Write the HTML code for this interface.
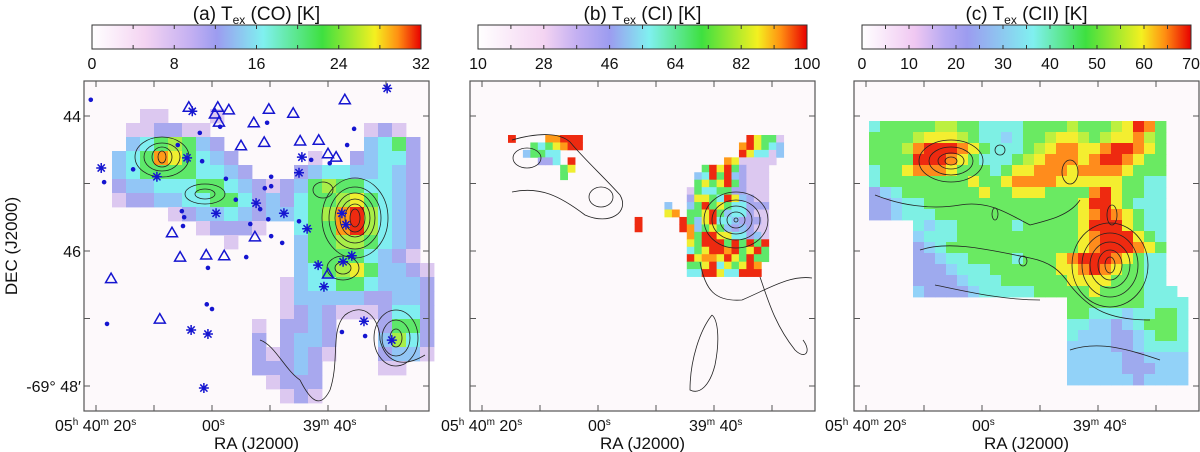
<!DOCTYPE html>
<html><head><meta charset="utf-8"><style>
html,body{margin:0;padding:0;background:#fff;}
svg{display:block;font-family:"Liberation Sans",sans-serif;}
</style></head><body>
<svg id="fig" width="1200" height="452" viewBox="0 0 1200 452">
<defs>
<linearGradient id="gCO" x1="0" x2="1" y1="0" y2="0">
<stop offset="0" stop-color="#ffffff"/><stop offset="0.16" stop-color="#f4d4f2"/><stop offset="0.3" stop-color="#c4b0f2"/><stop offset="0.38" stop-color="#9c9cf0"/><stop offset="0.52" stop-color="#80f0f0"/><stop offset="0.7" stop-color="#3ee040"/><stop offset="0.86" stop-color="#f4f020"/><stop offset="0.93" stop-color="#ff9012"/><stop offset="1" stop-color="#e80000"/>
</linearGradient>
<linearGradient id="gCI" x1="0" x2="1" y1="0" y2="0">
<stop offset="0" stop-color="#ffffff"/><stop offset="0.2" stop-color="#f4d4f2"/><stop offset="0.3" stop-color="#c4b0f2"/><stop offset="0.4" stop-color="#9c9cf0"/><stop offset="0.52" stop-color="#80f0f0"/><stop offset="0.68" stop-color="#3ee040"/><stop offset="0.85" stop-color="#f4f020"/><stop offset="0.92" stop-color="#ff9012"/><stop offset="1" stop-color="#e80000"/>
</linearGradient>
<linearGradient id="gCII" x1="0" x2="1" y1="0" y2="0">
<stop offset="0" stop-color="#ffffff"/><stop offset="0.16" stop-color="#f0c8f2"/><stop offset="0.25" stop-color="#b8aaf2"/><stop offset="0.32" stop-color="#9c9cf0"/><stop offset="0.52" stop-color="#80f0f0"/><stop offset="0.68" stop-color="#3ee040"/><stop offset="0.85" stop-color="#f4f020"/><stop offset="0.92" stop-color="#ff9012"/><stop offset="1" stop-color="#e80000"/>
</linearGradient>
</defs>
<g id="layer"></g>
</svg>
<script>
// ---- data ----
const coTicks=['0','8','16','24','32'];
const ciTicks=['10','28','46','64','82','100'];
const ciiTicks=['0','10','20','30','40','50','60','70'];
const raTickSec=[80,70,60,50,40,30];
const decTicks=[44,45,46,47,48];
const coGrid=[
".........................",
".........................",
"....11...1...............",
"...112211...........121..",
"...3456532..........3452.",
"..345875432.....1..23442.",
"..3455554432...234433432.",
"..2334445543212356554432.",
"..1223344554232455675432.",
"......123343233456896432.",
"........12221..455896432.",
"..........1....355665432.",
"...............355554321.",
"...............3456753321",
"..............13445543332",
"..............13333322332",
"..............12321112442",
"............1.2232...2552",
"............2.2332...3642",
"............212321...2331",
"............22232....11..",
".............1222........",
"..............121........",
"........................."];
const ciGrid=[
"9....88999......................97551",
"...5457899.....................897543",
"..35544........................974413",
"....224.9....................8711111.",
".......57.................597952111..",
".......5.................3495932111..",
".........................5757952111..",
"........................15445522111..",
"........................27754973211..",
".....................3..35957544222..",
".....................78.55795344211..",
".................9.....953794432221..",
".................9.....983575323211..",
"........................85997744231..",
"........................75999595959..",
"........................45799895795..",
"........................97887975955..",
"........................5579475798...",
"........................4499744999..."];
const ciiGrid=[
"455555665544445555655567985..",
"555567776544345567765677865..",
"555689998754445678877899875..",
"555599987544456788878998755..",
"455788875554577888788887555..",
"455555555755788887777775544..",
"234555555575577755558975544..",
"223445555555555555579975444..",
"223444555555555555578987544..",
"....43445555545555579997544..",
"....34445555555555578999754..",
"....23455555555555578999875..",
"....22344555545557899987544..",
"....22234445555557789875544..",
"....22223444555555777755544..",
"....322223444445555575555444",
"..................55555554444",
"..................55444344554",
"..................44332345554",
"..................43332234554",
"..................33332234444",
"..................33333223333",
"..................33333222333",
"..................33333323333"];
const starRA=[79.1,69.5,64.3,63.4,59.3,52.4,47.6,44.5,45.0,43.6,41.7,40.7,37.6,36.9,37.4,35.9,29.8,33.8,29.0,63.6,60.7,61.4];
const starDec=[44.77,44.90,44.62,43.93,45.44,45.29,45.44,44.61,44.84,45.67,46.21,46.53,45.44,45.61,46.16,46.07,43.59,47.04,47.32,47.17,47.23,48.03];
const triRA=[64.0,59.0,57.1,59.5,58.8,50.2,46.0,52.8,37.1,55.0,51.0,44.8,41.6,40.0,38.6,66.9,52.6,65.5,61.0,57.9,40.0,77.4,69.0];
const triDec=[43.87,43.87,43.91,43.97,44.09,43.90,43.96,44.10,43.76,44.44,44.39,44.37,44.36,44.56,44.61,45.73,45.79,46.09,46.06,46.07,46.34,46.41,47.01];
const dotRA=[80.9,73.6,78.6,65.9,62.1,61.7,58.6,57.6,55.9,65.2,64.8,65.0,53.4,51.7,50.9,49.8,49.8,50.3,49.8,47.9,45.0,54.1,60.7,60.9,60.0,78.1,50.5,35.5,36.7,42.9,39.7,37.6,33.6];
const dotDec=[43.76,44.79,44.98,44.43,44.25,44.67,44.16,44.93,45.24,45.41,45.50,45.63,45.60,45.38,45.07,44.90,45.04,45.53,45.78,45.88,45.56,46.09,46.25,46.79,46.86,47.08,44.10,44.19,44.43,44.65,44.70,47.20,47.26];

// ---- styles ----
const palCO=['#dcc8f0','#a8a8ee','#92c6f6','#80eef0','#5ee86a','#a8ee48','#f0ee30','#ff9a18','#ee2a10'];
const palCII=['#dcc8f0','#9eaaee','#92d2f8','#7ef0e4','#6aea62','#bcf040','#f4ee30','#ff8c1c','#ee2a10'];
const NS='http://www.w3.org/2000/svg';
const layer=document.getElementById('layer');
function mk(tag,attrs,parent){const e=document.createElementNS(NS,tag);for(const k in attrs)e.setAttribute(k,attrs[k]);(parent||layer).appendChild(e);return e;}

const panels=[
 {L:84,cb:'gCO',ticks:coTicks,title:'(a)  T',tail:' (CO) [K]',grid:coGrid,gx:84,gy:81,cw:14,ch:14,pal:palCO,name:'co'},
 {L:470,cb:'gCI',ticks:ciTicks,title:'(b)  T',tail:' (CI) [K]',grid:ciGrid,gx:508,gy:135,cw:7.45,ch:7.45,pal:palCO,name:'ci'},
 {L:854,cb:'gCII',ticks:ciiTicks,title:'(c) T',tail:' (CII) [K]',grid:ciiGrid,gx:869,gy:121,cw:11,ch:11,pal:palCII,name:'cii'}
];
const T=81,B=411,W=345;
function xOf(p,ra){return p.L+12+(80-ra)*5.8;}
function yOf(d){return 116+(d-44)*67.5;}

panels.forEach((p,pi)=>{
 const g=mk('g',{});
 
 
 const bg=mk('rect',{x:p.L,y:T,width:W,height:B-T,fill:'#fdf9fb'},g);
 
 
 const hm=mk('g',{},g);
 
 
 p.grid.forEach((row,r)=>{for(let c=0;c<row.length;c++){const ch=row[c];if(ch==='.')continue;const v=+ch;
  const cell=mk('rect',{x:(p.gx+c*p.cw).toFixed(2),y:(p.gy+r*p.ch).toFixed(2),width:(p.cw+0.4).toFixed(2),height:(p.ch+0.4).toFixed(2),fill:p.pal[v-1]},hm);
  
  
 }});
 const fr=mk('rect',{x:p.L,y:T,width:W,height:B-T,fill:'none',stroke:'#555','stroke-width':1.2},g);
 
 
 raTickSec.forEach(s=>{const x=xOf(p,s);
  mk('line',{x1:x,x2:x,y1:B,y2:B-6,stroke:'#555'},g);mk('line',{x1:x,x2:x,y1:T,y2:T+6,stroke:'#555'},g);});
 decTicks.forEach(d=>{const y=yOf(d);
  mk('line',{x1:p.L,x2:p.L+6,y1:y,y2:y,stroke:'#555'},g);mk('line',{x1:p.L+W,x2:p.L+W-6,y1:y,y2:y,stroke:'#555'},g);});
 const ra1=mk('text',{x:p.L-29,y:431,'font-size':16,fill:'#111'},g);
 
 
 ra1.innerHTML='05<tspan font-size="10" dy="-6">h</tspan><tspan dy="6"> 40</tspan><tspan font-size="10" dy="-6">m</tspan><tspan dy="6"> 20</tspan><tspan font-size="10" dy="-6">s</tspan>';
 const ra2=mk('text',{x:p.L+118,y:431,'font-size':16,fill:'#111'},g);
 
 
 ra2.innerHTML='00<tspan font-size="10" dy="-6">s</tspan>';
 const ra3=mk('text',{x:p.L+219,y:431,'font-size':16,fill:'#111'},g);
 
 
 ra3.innerHTML='39<tspan font-size="10" dy="-6">m</tspan><tspan dy="6"> 40</tspan><tspan font-size="10" dy="-6">s</tspan>';
 const xt=mk('text',{x:p.L+W/2,y:449,'font-size':17,'text-anchor':'middle',fill:'#111'},g);
 
 
 xt.textContent='RA (J2000)';
 const cx0=p.L+8,cx1=p.L+W-8;
 const cb=mk('rect',{x:cx0,y:25,width:cx1-cx0,height:24,fill:'url(#'+p.cb+')',stroke:'#333','stroke-width':1},g);
 
 
 const n=p.ticks.length-1;
 for(let i=0;i<=2*n;i++){const x=cx0+(cx1-cx0)*i/(2*n);
  mk('line',{x1:x,x2:x,y1:25,y2:29,stroke:'#333'},g);mk('line',{x1:x,x2:x,y1:49,y2:45,stroke:'#333'},g);}
 p.ticks.forEach((t,i)=>{const tl=mk('text',{x:cx0+(cx1-cx0)*i/n,y:69,'font-size':16,'text-anchor':'middle',fill:'#111'},g);
  
  
  tl.textContent=t;});
 const tt=mk('text',{x:p.L+W/2,y:20,'font-size':19,'text-anchor':'middle',fill:'#111'},g);
 
 
 tt.innerHTML=p.title+'<tspan font-size="12" dy="4">ex</tspan><tspan dy="-4">'+p.tail+'</tspan>';
});

// contours (approximate)
const ct=mk('g',{fill:'none',stroke:'#222','stroke-width':0.8});


[[355,218,[[5,9],[10,14],[15,19],[20,25],[26,31],[33,40]]],[162,157,[[4,6],[10,10],[18,14],[27,20]]],[205,194,[[10,5],[20,10]]],[323,190,[[10,8]]],[343,268,[[8,6],[16,12]]],[396,338,[[6,9],[14,18],[22,28]]],
 [736,220,[[2,2],[9,8],[16,14],[24,20],[32,28]]],[527,158,[[14,10]]],[601,197,[[12,10]]],
 [951,161,[[6,4],[13,8],[22,14],[32,21]]],[1110,265,[[5,8],[12,15],[20,23],[28,32],[38,42]]],[1112,215,[[5,10]]],[1070,172,[[8,12]]],[1000,150,[[5,5]]],[1023,261,[[4,5]]],[995,214,[[3,6]]]
].forEach(([x,y,rs])=>rs.forEach(([rx,ry])=>mk('ellipse',{cx:x,cy:y,rx:rx,ry:ry},ct)));
mk('path',{d:'M512,192 C540,186 560,196 585,215 C610,226 630,212 620,195 C605,178 585,160 570,142 C560,133 540,132 512,140'},ct);
mk('path',{d:'M700,262 C705,290 715,302 742,300 C770,288 790,275 812,278 M760,277 C768,300 775,325 795,350 C805,360 812,352 803,340 M712,315 C700,330 690,360 690,390 C700,395 710,385 715,365 C720,340 718,320 712,315'},ct);
mk('path',{d:'M300,380 C310,400 320,410 330,390 C340,360 330,330 345,315 C365,300 380,320 380,340 C385,360 400,370 425,355 M260,340 C275,345 285,370 300,380'},ct);
mk('path',{d:'M875,195 C900,205 930,210 960,205 C990,200 1010,215 1030,225 C1050,220 1070,215 1080,200 M920,250 C950,240 990,250 1030,258 C1050,262 1060,270 1070,285 C1090,310 1110,320 1150,320 M935,285 C960,290 1000,300 1040,300 M1070,350 C1100,340 1130,350 1160,360'},ct);

// YSO markers (panel a)
const mk1=mk('g',{stroke:'#1515d0',fill:'none','stroke-width':1.5});


const P0=panels[0];
starRA.forEach((ra,i)=>{const x=xOf(P0,ra),y=yOf(starDec[i]);const s=mk('path',{d:`M${x-5},${y}H${x+5}M${x},${y-5}V${y+5}M${x-3.6},${y-3.6}L${x+3.6},${y+3.6}M${x-3.6},${y+3.6}L${x+3.6},${y-3.6}`},mk1);
 
 });
triRA.forEach((ra,i)=>{const x=xOf(P0,ra),y=yOf(triDec[i]);const s=mk('path',{d:`M${x},${y-5.5}L${x+5.5},${y+4}L${x-5.5},${y+4}Z`},mk1);
 
 });
dotRA.forEach((ra,i)=>{const s=mk('circle',{cx:xOf(P0,ra),cy:yOf(dotDec[i]),r:2.3,fill:'#1515d0',stroke:'none'},mk1);
 
 });

[['44',44],['46',46],['-69° 48′',48]].forEach(([t,d])=>{const e=mk('text',{x:81,y:yOf(d)+6,'font-size':16,'text-anchor':'end',fill:'#111'});
 
 
 e.textContent=t;});
const yt=mk('text',{x:0,y:0,'font-size':17,'text-anchor':'middle',fill:'#111',transform:'translate(17,246) rotate(-90)'});


yt.textContent='DEC (J2000)';
</script>
</body></html>
